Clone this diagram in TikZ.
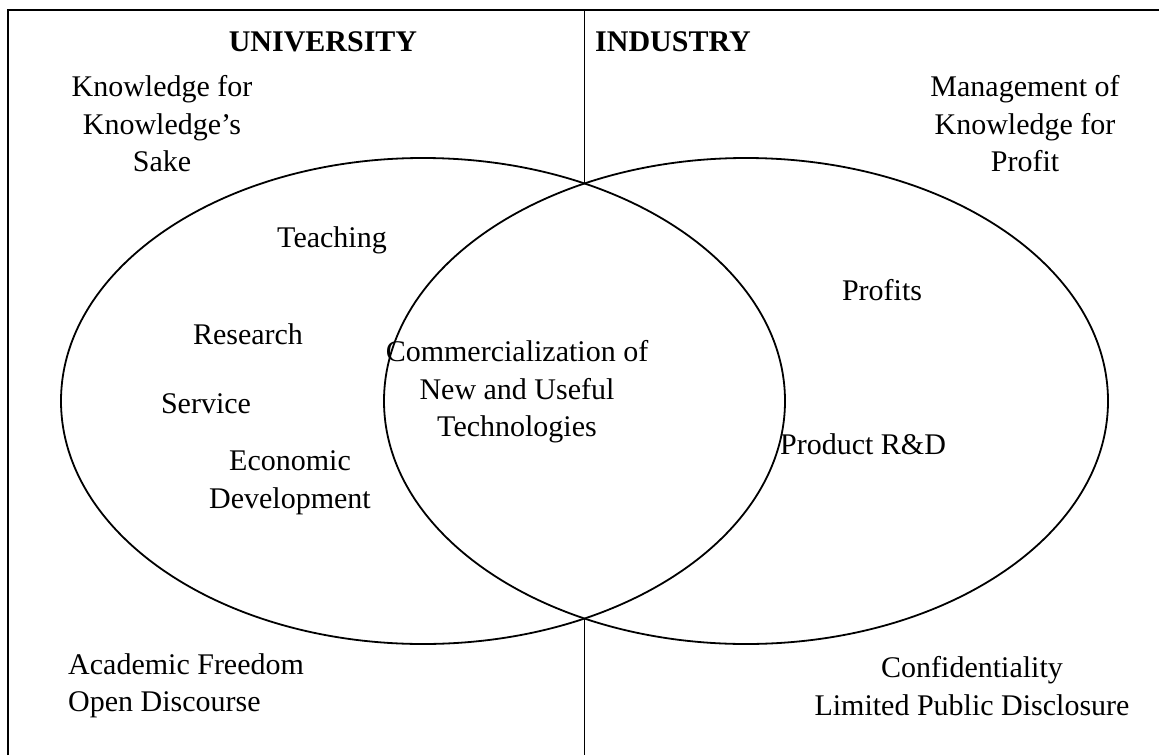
\documentclass[tikz,border=0pt]{standalone}
\usepackage{fontspec}
\setmainfont{Liberation Serif}
\tikzset{
    venn-line/.style = {draw=black, line width=1.8pt},
    venn-text/.style = {font=\fontsize{30}{37.5}\selectfont, align=center, inner sep=0pt},
    venn-title/.style = {font=\fontsize{30}{37.5}\selectfont\bfseries, inner sep=0pt},
}

\begin{document}
\begin{tikzpicture}[x=1pt, y=-1pt]
\useasboundingbox (0,0) rectangle (1159,755);
% frame and the two sets
\draw[venn-line, line width=2.2pt] (8,755) -- (8,10) -- (1159,10);
\draw[venn-line] (423,401) ellipse [x radius=362, y radius=243];
\draw[venn-line] (746,401) ellipse [x radius=362, y radius=243];
\coordinate (split-top) at (584.5,10);
\coordinate (cross-top) at (584.5,183);
\coordinate (cross-bottom) at (584.5,619);
\coordinate (split-bottom) at (584.5,755);
\draw[venn-line] (split-top) -- (cross-top);
\draw[venn-line] (cross-bottom) -- (split-bottom);

\node[venn-title] (university) at (323,42) {UNIVERSITY};
\node[venn-title] (industry) at (673,42) {INDUSTRY};
\node[venn-text] (sake) at (162,124) {Knowledge for\\Knowledge's\\Sake};
\node[venn-text] (profit) at (1025,124) {Management of\\Knowledge for\\Profit};
\node[venn-text] (teaching) at (332,240) {Teaching};
\node[venn-text] (research) at (248,334) {Research};
\node[venn-text] (service) at (206,404) {Service};
\node[venn-text] (economic) at (290,483) {Economic\\Development};
\node[venn-text] (commerce) at (517,392) {Commercialization of\\New and Useful\\Technologies};
\node[venn-text] (profits) at (882,290) {Profits};
\node[venn-text] (product) at (863,444) {Product R\&D};
\node[venn-text, align=left, anchor=west] (freedom) at (68,686) {Academic Freedom\\Open Discourse};
\node[venn-text] (secrecy) at (972,686) {Confidentiality\\Limited Public Disclosure};
\end{tikzpicture}
\end{document}
